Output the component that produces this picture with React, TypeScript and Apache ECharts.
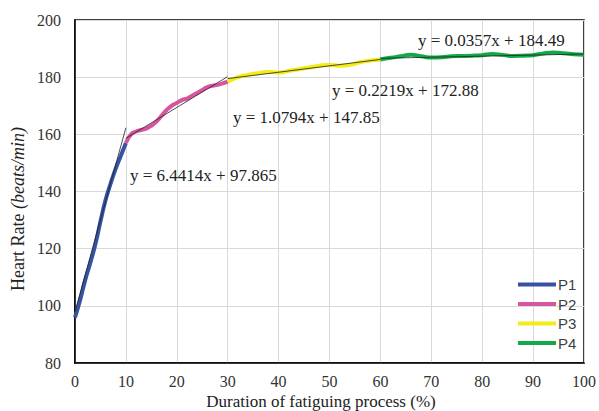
import React, { useEffect, useRef } from "react";
import * as echarts from "echarts";

const xTicks = { min: 0, max: 100, interval: 10 };
const yTicks = { min: 80, max: 200, interval: 20 };

const seriesNames = ["P1", "P2", "P3", "P4"];
const seriesColors = ["#3653a3", "#d6559f", "#f4ec19", "#15a84a"];

const p1: [number, number][] = [
  [0, 96], [1, 102], [2, 109], [3, 115], [4, 121.5], [5, 129.5], [6, 137],
  [7, 142.8], [8, 148], [9, 152.5], [10, 157],
];
const p2: [number, number][] = [
  [10, 157], [11, 160], [12, 161], [13, 161.5], [14, 162], [15, 163],
  [16, 164.5], [17, 166.5], [18, 168.5], [19, 170], [20, 171], [21, 172],
  [22, 172.5], [23, 173.5], [24, 174.5], [25, 175.5], [26, 176.5], [27, 177],
  [28, 177.3], [29, 177.8], [30, 178.4],
];
const p3: [number, number][] = [
  [30, 178.4], [32, 180], [34, 180.8], [36, 181.4], [38, 181.9], [40, 181.6],
  [42, 182.2], [44, 182.8], [46, 183.4], [48, 184], [50, 184.3], [52, 184],
  [54, 184.3], [56, 185.2], [58, 185.8], [60, 186.2],
];
const p4: [number, number][] = [
  [60, 186.2], [62, 186.8], [64, 187.3], [66, 187.8], [68, 187.3], [70, 186.9],
  [72, 187], [74, 187.3], [76, 187.4], [78, 187.5], [80, 187.7], [82, 188.1],
  [84, 187.8], [86, 187.4], [88, 187.5], [90, 187.7], [92, 188.3], [94, 188.6],
  [96, 188.4], [98, 188.0], [100, 187.8],
];
const seriesData = [p1, p2, p3, p4];

// trend line end points
const trend1: [number, number][] = [[0, 97.9], [10, 162.3]];
const trend2: [number, number][] = [[10, 158.6], [30, 180.2]];
const trend3: [number, number][] = [[30, 179.5], [60, 186.2]];
const trend4: [number, number][] = [[60, 186.6], [100, 188.1]];
const trends = [trend1, trend2, trend3, trend4];

const equations = [
  "y = 6.4414x + 97.865",
  "y = 1.0794x + 147.85",
  "y = 0.2219x + 172.88",
  "y = 0.0357x + 184.49",
];

const xTitle = "Duration of fatiguing process (%)";
const yTitleA = "Heart Rate ";
const yTitleB = "(beats/min)";

const SERIF = "Liberation Serif";
const SANS = "Liberation Sans";

export default function App() {
  const ref = useRef<HTMLDivElement>(null);
  useEffect(() => {
    if (!ref.current) return;
    const chart = echarts.init(ref.current, undefined, { renderer: "svg" });
    const eqPos = [
      { x: 130, y: 175 },
      { x: 233, y: 117 },
      { x: 332, y: 90 },
      { x: 418, y: 40 },
    ];
    chart.setOption({
      animation: false,
      backgroundColor: "#fff",
      grid: {
        left: 75, right: 12, top: 20, bottom: 48,
        show: true, borderColor: "#000", borderWidth: 1.5,
      },
      xAxis: {
        type: "value", ...xTicks,
        axisLine: { show: true, lineStyle: { color: "#000", width: 1.5 } },
        axisTick: { show: false },
        splitLine: { show: true, lineStyle: { color: "#d9d9d9", width: 1 } },
        axisLabel: { color: "#333", fontFamily: SERIF, fontSize: 16, margin: 10 },
      },
      yAxis: {
        type: "value", ...yTicks,
        axisLine: { show: true, lineStyle: { color: "#000", width: 1.5 } },
        axisTick: { show: false },
        splitLine: { show: true, lineStyle: { color: "#d9d9d9", width: 1 } },
        axisLabel: { color: "#333", fontFamily: SERIF, fontSize: 16, margin: 14 },
      },
      legend: {
        data: seriesNames,
        orient: "vertical",
        left: 513, top: 272,
        icon: "rect",
        itemWidth: 38, itemHeight: 4, itemGap: 4.5,
        textStyle: { fontFamily: SANS, fontSize: 15, color: "#404040", lineHeight: 14, padding: [0, 0, 0, -3] },
      },
      series: [
        ...seriesData.map((d, i) => ({
          name: seriesNames[i],
          type: "line",
          data: d,
          smooth: true,
          symbol: "none",
          lineStyle: { color: seriesColors[i], width: 4 },
          itemStyle: { color: seriesColors[i] },
          z: 2,
        })),
        ...trends.map((d, i) => ({
          name: "trend" + (i + 1),
          type: "line",
          data: d,
          symbol: "none",
          lineStyle: { color: "#222", width: 0.8 },
          z: 3,
          silent: true,
        })),
      ],
      graphic: [
        ...equations.map((t, i) => ({
          type: "text",
          x: eqPos[i].x, y: eqPos[i].y,
          style: {
            text: t, fontFamily: SERIF, fontSize: 17, fill: "#222",
            verticalAlign: "middle", align: "left",
          },
          z: 10,
        })),
        {
          type: "text", x: 321, y: 401,
          style: { text: xTitle, fontFamily: SERIF, fontSize: 17, fill: "#222", align: "center", verticalAlign: "middle" },
        },
        {
          type: "text", x: 18, y: 209, rotation: Math.PI / 2,
          style: {
            text: `{a|${yTitleA}}{b|${yTitleB}}`,
            align: "center", verticalAlign: "middle",
            rich: {
              a: { fontFamily: SERIF, fontSize: 18, fill: "#222", color: "#222" },
              b: { fontFamily: SERIF, fontSize: 18, fontStyle: "italic", fill: "#222", color: "#222" },
            },
          },
        },
      ],
    });
    return () => chart.dispose();
  }, []);
  return <div ref={ref} style={{ width: 599, height: 411, position: "absolute", left: 0, top: 0 }} />;
}
